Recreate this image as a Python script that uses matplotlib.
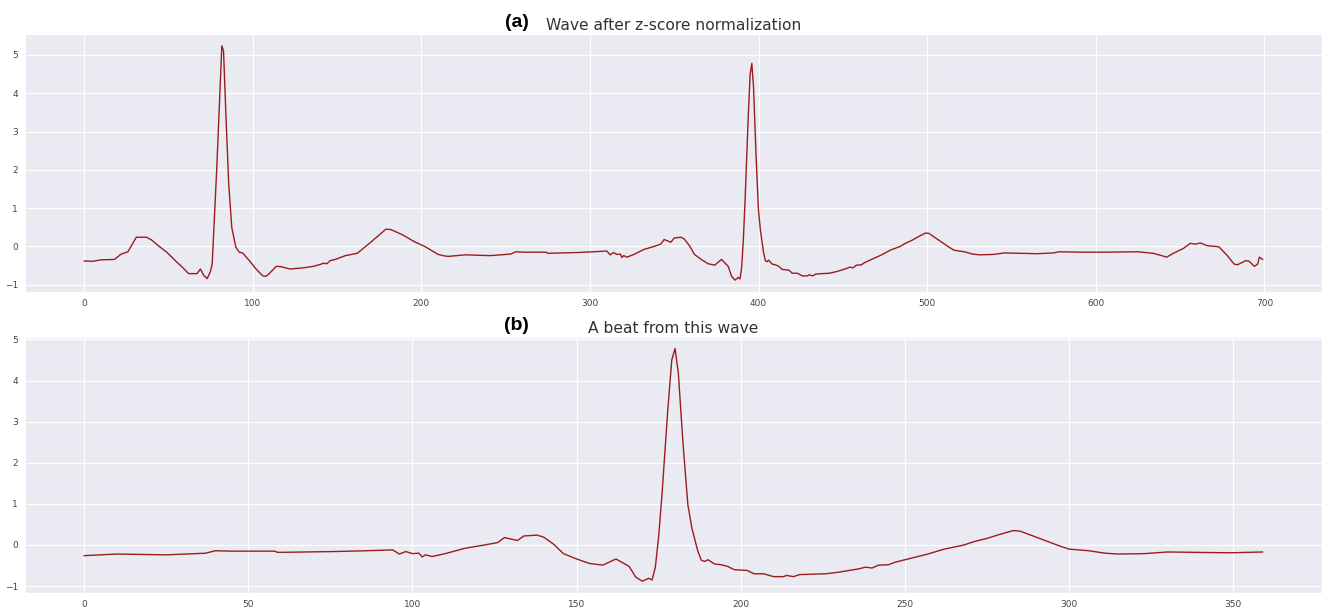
import matplotlib.pyplot as plt
import seaborn as sns
import numpy as np

# z-scored ECG wave
# first part of the wave (before the beat window)
head_x = [0, 5, 10, 18, 22, 26, 31, 37, 40, 44, 49, 55, 58, 62, 67, 69, 71, 73,
          75, 76, 77, 78.7, 80.3, 81.7, 82.7, 84.2, 85.8, 87.6, 90, 92, 94, 98,
          102, 106, 108, 110, 114, 117, 122, 130, 136, 140, 142, 144, 146, 149,
          155, 162, 170, 179, 182, 189, 196, 202, 210, 214]
head_y = [-0.38, -0.39, -0.35, -0.34, -0.20, -0.14, 0.24, 0.24, 0.17, 0.02, -0.15,
          -0.41, -0.53, -0.71, -0.71, -0.59, -0.76, -0.84, -0.65, -0.45, 0.49, 2.05,
          3.77, 5.24, 5.11, 3.34, 1.62, 0.49, -0.02, -0.15, -0.17, -0.37, -0.59,
          -0.77, -0.78, -0.70, -0.52, -0.53, -0.59, -0.56, -0.52, -0.47, -0.44,
          -0.45, -0.37, -0.34, -0.24, -0.18, 0.11, 0.45, 0.44, 0.30, 0.12, 0.0,
          -0.21, -0.25]

# one beat (panel b), x counted from the start of the window
beat_start = 216
beat_x = [0, 5, 10, 25, 37, 40, 45, 58, 59, 76, 86, 94, 96, 98, 100, 102, 103, 104,
          106, 110, 116, 122, 126, 128, 132, 134, 138, 140, 143, 146, 150, 154, 158,
          162, 166, 168, 170, 172, 173, 174, 175, 176, 177.8, 179, 180, 181, 182.4,
          183.9, 185.1, 186.9, 188, 189, 190, 192, 194, 196, 198, 202, 204, 207,
          210, 213, 214, 216, 218, 226, 230, 236, 238, 240, 242, 245, 247, 252, 257,
          262, 268, 271, 275, 279, 283, 285, 289, 293, 297, 300, 306, 311, 315, 323,
          330, 339, 349, 359]
beat_y = [-0.26, -0.24, -0.22, -0.24, -0.20, -0.14, -0.15, -0.15, -0.18, -0.16,
          -0.14, -0.12, -0.22, -0.16, -0.21, -0.20, -0.29, -0.24, -0.28, -0.21,
          -0.08, 0.0, 0.06, 0.18, 0.11, 0.22, 0.24, 0.19, 0.02, -0.21, -0.34, -0.45,
          -0.49, -0.34, -0.52, -0.78, -0.88, -0.81, -0.85, -0.54, 0.2, 1.2, 3.30,
          4.50, 4.78, 4.18, 2.50, 0.98, 0.42, -0.14, -0.37, -0.40, -0.36, -0.46,
          -0.48, -0.52, -0.60, -0.62, -0.70, -0.70, -0.77, -0.77, -0.74, -0.77,
          -0.72, -0.70, -0.66, -0.58, -0.54, -0.56, -0.49, -0.48, -0.42, -0.32,
          -0.22, -0.10, 0.0, 0.08, 0.16, 0.26, 0.35, 0.34, 0.22, 0.10, -0.02, -0.10,
          -0.14, -0.20, -0.22, -0.21, -0.17, -0.18, -0.19, -0.17]

# rest of the wave after the beat window
tail_x = [578, 591, 605, 625, 634, 639, 642, 646, 652, 656, 659, 662, 666, 673,
          678, 682, 684, 689, 691, 694, 696, 697, 699]
tail_y = [-0.14, -0.15, -0.15, -0.14, -0.18, -0.24, -0.28, -0.18, -0.05, 0.08, 0.06,
          0.09, 0.02, -0.01, -0.24, -0.46, -0.48, -0.37, -0.39, -0.52, -0.46, -0.28,
          -0.34]

wave_x = np.concatenate([head_x, np.array(beat_x) + beat_start, tail_x])
wave_y = np.concatenate([head_y, beat_y, tail_y])

sns.set_style("darkgrid")
line_color = '#9b1c1c'

fig = plt.figure(figsize=(13.23, 6.08), dpi=100)
ax1 = fig.add_axes([0.019, 0.520, 0.980, 0.424])
ax2 = fig.add_axes([0.019, 0.025, 0.980, 0.421])

ax1.plot(wave_x, wave_y, color=line_color, linewidth=1.0)
ax2.plot(beat_x, beat_y, color=line_color, linewidth=1.0)

titles = [("(a)", "Wave after z-score normalization"), ("(b)", "A beat from this wave")]
for ax, (tag, title) in zip([ax1, ax2], titles):
    ax.tick_params(labelsize=6.5, pad=1.5, labelcolor='#444444')
    ax.set_title(title, fontsize=11.2, color='#333333', pad=3)
    ax.text(0.379, 1.010, tag, transform=ax.transAxes, ha='center', va='bottom',
            fontsize=14, fontweight='bold', family='Liberation Sans', color='black')

ax1.set_yticks([-1, 0, 1, 2, 3, 4, 5])
ax2.set_yticks([-1, 0, 1, 2, 3, 4, 5])

plt.savefig('out.png', dpi=100)
